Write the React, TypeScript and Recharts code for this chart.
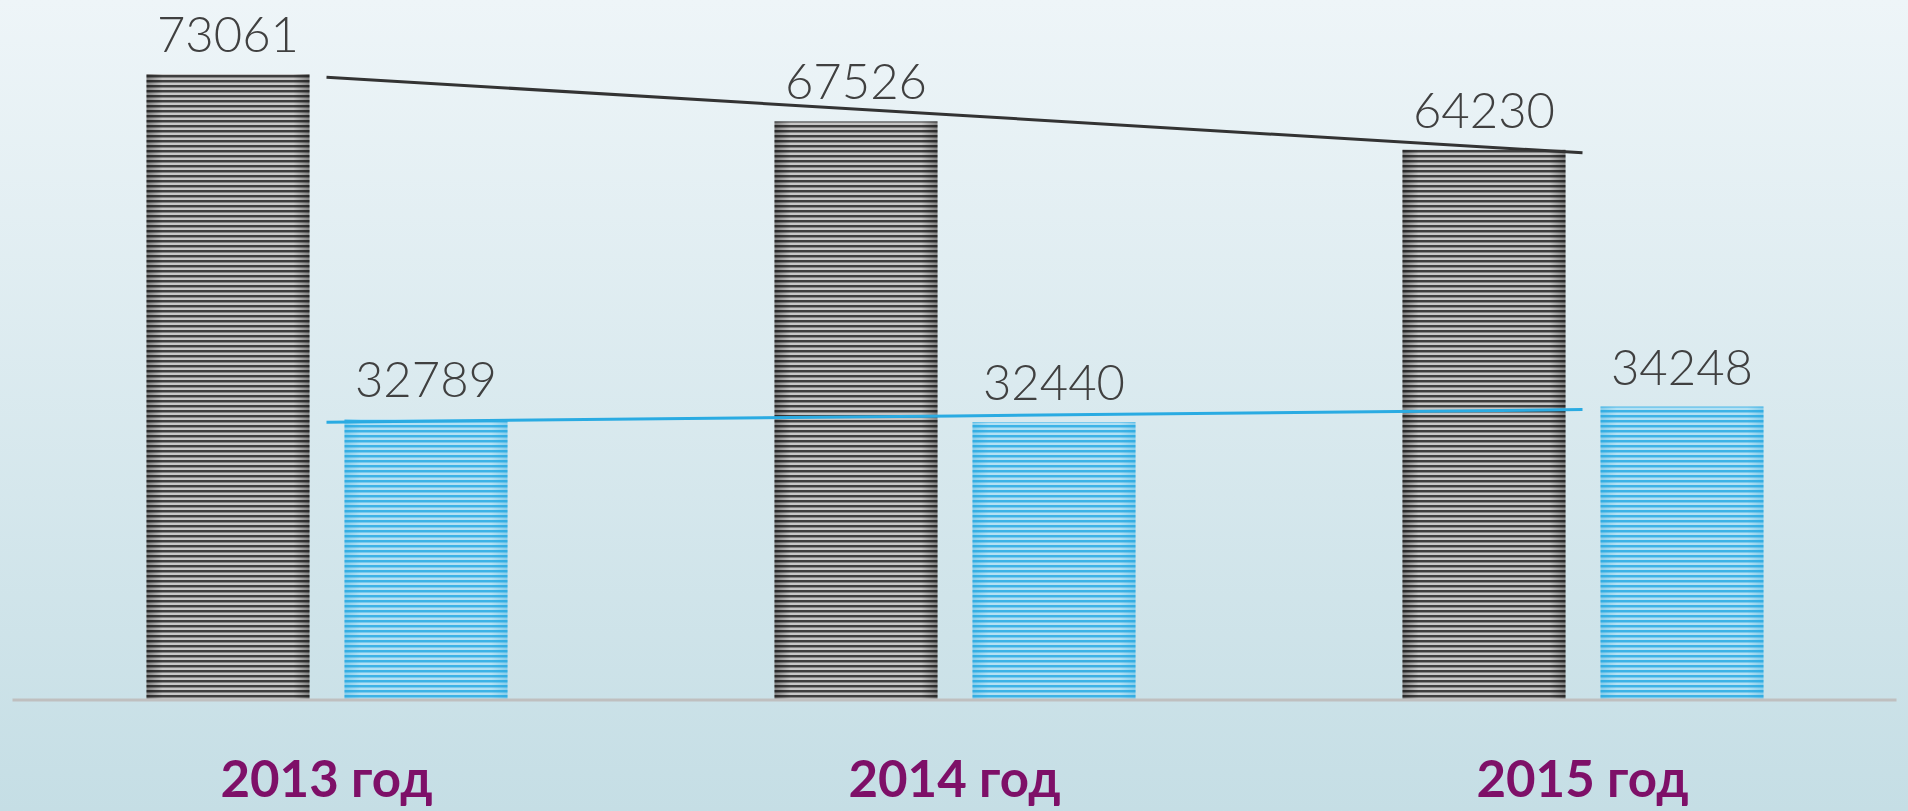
import { ComposedChart, Bar, Line, XAxis, YAxis, LabelList } from 'recharts'

const years = ['2013 год', '2014 год', '2015 год']
const darkValues = [73061, 67526, 64230]
const blueValues = [32789, 32440, 34248]
// linear trend lines as drawn in the picture
const darkTrend = [72690, 68270, 63860]
const blueTrend = [32430, 33160, 33890]

const data = years.map((year, i) => ({
  year,
  dark: darkValues[i],
  blue: blueValues[i],
  darkTrend: darkTrend[i],
  blueTrend: blueTrend[i],
}))

function StripedBar(props: any) {
  const { x, y, width, height, kind } = props
  if (!height || height <= 0) return null
  return (
    <g>
      <rect x={x} y={y} width={width} height={height} fill={`url(#stripes-${kind})`} />
      <rect x={x} y={y} width={width} height={height} fill={`url(#edge-${kind})`} />
    </g>
  )
}

function YearTick(props: any) {
  const { x, y, payload } = props
  return (
    <text
      x={x}
      y={y + 89}
      textAnchor="middle"
      fill="#7e1068"
      fontSize={51}
      fontWeight={700}
      fontFamily="Lato, 'Liberation Sans', sans-serif"
    >
      {payload.value}
    </text>
  )
}

export default function App() {
  return (
    <div
      style={{
        position: 'absolute',
        left: 0,
        top: 0,
        width: 1908,
        height: 811,
        background: 'linear-gradient(to bottom, #eef5f8 0%, #c5dee5 100%)',
      }}
    >
      <ComposedChart
        width={1908}
        height={811}
        data={data}
        margin={{ top: 74, right: 11.5, left: 12.5, bottom: 11 }}
        barSize={163}
        barGap={35}
      >
        <defs>
          <pattern id="stripes-dark" patternUnits="userSpaceOnUse" width={8} height={5}>
            <rect x={0} y={0} width={8} height={2} fill="#3e3e3e" />
            <rect x={0} y={2} width={8} height={1} fill="#858585" />
            <rect x={0} y={3} width={8} height={2} fill="#c6c6c6" />
          </pattern>
          <pattern id="stripes-blue" patternUnits="userSpaceOnUse" width={8} height={5}>
            <rect x={0} y={0} width={8} height={2} fill="#3db3e6" />
            <rect x={0} y={2} width={8} height={1} fill="#79caee" />
            <rect x={0} y={3} width={8} height={2} fill="#b3e1f4" />
          </pattern>
          <linearGradient id="edge-dark" x1="0" y1="0" x2="1" y2="0">
            <stop offset="0%" stopColor="#000" stopOpacity={0.35} />
            <stop offset="10%" stopColor="#000" stopOpacity={0} />
            <stop offset="90%" stopColor="#000" stopOpacity={0} />
            <stop offset="100%" stopColor="#000" stopOpacity={0.35} />
          </linearGradient>
          <linearGradient id="edge-blue" x1="0" y1="0" x2="1" y2="0">
            <stop offset="0%" stopColor="#1a9fd8" stopOpacity={0.3} />
            <stop offset="10%" stopColor="#1a9fd8" stopOpacity={0} />
            <stop offset="90%" stopColor="#1a9fd8" stopOpacity={0} />
            <stop offset="100%" stopColor="#1a9fd8" stopOpacity={0.3} />
          </linearGradient>
        </defs>
        <XAxis
          dataKey="year"
          height={100}
          axisLine={{ stroke: '#bfbfbf', strokeWidth: 3 }}
          tickLine={false}
          tick={<YearTick />}
          interval={0}
        />
        <YAxis hide domain={[0, 'dataMax']} />
        <Bar
          dataKey="dark"
          isAnimationActive={false}
          shape={(p: any) => <StripedBar {...p} kind="dark" />}
        >
          <LabelList
            dataKey="dark"
            position="top"
            offset={22}
            fill="#404040"
            fontSize={49}
            fontWeight={300}
            fontFamily="Lato, 'Liberation Sans', sans-serif"
          />
        </Bar>
        <Bar
          dataKey="blue"
          isAnimationActive={false}
          shape={(p: any) => <StripedBar {...p} kind="blue" />}
        >
          <LabelList
            dataKey="blue"
            position="top"
            offset={22}
            fill="#404040"
            fontSize={49}
            fontWeight={300}
            fontFamily="Lato, 'Liberation Sans', sans-serif"
          />
        </Bar>
        <Line
          dataKey="darkTrend"
          type="linear"
          stroke="#333333"
          strokeWidth={3}
          dot={false}
          activeDot={false}
          isAnimationActive={false}
        />
        <Line
          dataKey="blueTrend"
          type="linear"
          stroke="#2aabe2"
          strokeWidth={3}
          dot={false}
          activeDot={false}
          isAnimationActive={false}
        />
      </ComposedChart>
    </div>
  )
}
